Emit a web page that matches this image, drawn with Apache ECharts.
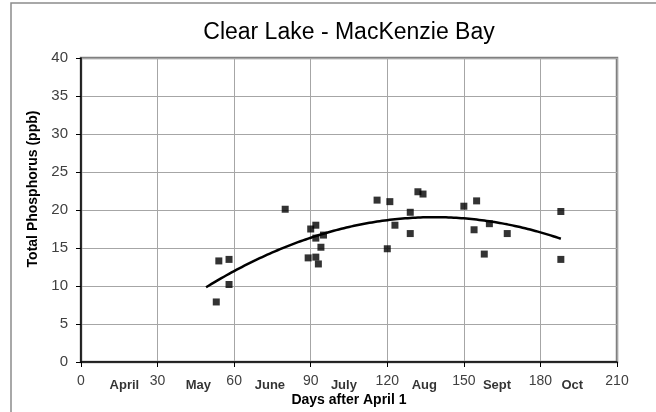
<!DOCTYPE html>
<html>
<head>
<meta charset="utf-8">
<script src="https://cdn.jsdelivr.net/npm/echarts@6/dist/echarts.min.js"></script>
<style>
  html, body { margin: 0; padding: 0; background: #fff; }
  #chart { width: 656px; height: 412px; }
</style>
</head>
<body>
<div id="chart"></div>
<script>
// Sampling day (days after April 1) and total phosphorus (ppb)
const sampleDays = [53, 54, 58, 58, 80, 89, 90, 92, 92, 92, 93, 94, 95,
                    116, 120, 121, 123, 129, 129, 132, 134,
                    150, 154, 155, 158, 160, 167, 188, 188];
const phosphorus = [7.9, 13.3, 13.5, 10.2, 20.1, 13.7, 17.5, 16.3, 13.8, 18.0, 12.9, 15.1, 16.7,
                    21.3, 14.9, 21.1, 18.0, 16.9, 19.7, 22.4, 22.1,
                    20.5, 17.4, 21.2, 14.2, 18.2, 16.9, 19.8, 13.5];

// Month names shown along the day axis, and the day each name sits over
const monthNames = ['April', 'May', 'June', 'July', 'Aug', 'Sept', 'Oct'];
const monthDays = [17, 46, 74, 103, 134.5, 163, 192.5];

// Trend line: 2nd-order polynomial fit, extended a few days before the first sample
const trendBackcastDays = 4;

function quadraticFit(xs, ys) {
  // Normal equations for y = c0 + c1 x + c2 x^2
  const S = [0, 0, 0, 0, 0];
  const T = [0, 0, 0];
  for (let i = 0; i < xs.length; i++) {
    const x = xs[i], y = ys[i];
    let p = 1;
    for (let k = 0; k < 5; k++) { S[k] += p; if (k < 3) T[k] += p * y; p *= x; }
  }
  const A = [[S[0], S[1], S[2], T[0]], [S[1], S[2], S[3], T[1]], [S[2], S[3], S[4], T[2]]];
  for (let c = 0; c < 3; c++) {
    let piv = c;
    for (let r = c + 1; r < 3; r++) if (Math.abs(A[r][c]) > Math.abs(A[piv][c])) piv = r;
    [A[c], A[piv]] = [A[piv], A[c]];
    for (let r = 0; r < 3; r++) {
      if (r === c) continue;
      const f = A[r][c] / A[c][c];
      for (let k = c; k < 4; k++) A[r][k] -= f * A[c][k];
    }
  }
  return [A[0][3] / A[0][0], A[1][3] / A[1][1], A[2][3] / A[2][2]];
}

const coef = quadraticFit(sampleDays, phosphorus);
const xMin = Math.min(...sampleDays) - trendBackcastDays;
const xMax = Math.max(...sampleDays);
const trendPoints = [];
for (let x = xMin; x <= xMax + 1e-9; x += 1) {
  trendPoints.push([x, coef[0] + coef[1] * x + coef[2] * x * x]);
}

const points = sampleDays.map((d, i) => [d, phosphorus[i]]);
const monthMarks = monthDays.map((d, i) => ({ value: [d, 0], name: monthNames[i] }));

const chart = echarts.init(document.getElementById('chart'), null, { renderer: 'canvas' });
chart.setOption({
  animation: false,
  backgroundColor: '#fff',
  grid: {
    left: 81, top: 58, width: 536, height: 305,
    show: true, borderColor: '#808080', borderWidth: 2.5, backgroundColor: 'transparent'
  },
  graphic: [
    {
      type: 'rect', z: -10, silent: true,
      shape: { x: 11, y: 3, width: 1000, height: 1000 },
      style: { fill: 'none', stroke: '#8c8c8c', lineWidth: 1.5 }
    },
    {
      type: 'text', x: 349, y: 33, silent: true,
      style: {
        text: 'Clear Lake - MacKenzie Bay', align: 'center', verticalAlign: 'middle',
        font: '23px "Liberation Sans", Arial, sans-serif', fill: '#000'
      }
    },
    {
      type: 'text', x: 33, y: 189, rotation: Math.PI / 2, silent: true,
      style: {
        text: 'Total Phosphorus (ppb)', align: 'center', verticalAlign: 'middle',
        font: 'bold 14px "Liberation Sans", Arial, sans-serif', fill: '#000'
      }
    }
  ],
  xAxis: {
    type: 'value', min: 0, max: 210, interval: 30,
    name: 'Days after April 1', nameLocation: 'middle', nameGap: 31,
    nameTextStyle: { fontFamily: 'Liberation Sans', fontWeight: 'bold', fontSize: 14, color: '#000' },
    axisLine: { lineStyle: { color: '#000', width: 1.5 } },
    axisTick: { show: true, inside: false, length: 5, lineStyle: { color: '#000', width: 1 } },
    axisLabel: { margin: 12, fontFamily: 'Liberation Sans', fontSize: 14, color: '#404040' },
    splitLine: { show: true, lineStyle: { color: '#a6a6a6', width: 1 } }
  },
  yAxis: {
    type: 'value', min: 0, max: 40, interval: 5,
    axisLine: { show: true, lineStyle: { color: '#000', width: 1.5 } },
    axisTick: { show: true, inside: false, length: 5, lineStyle: { color: '#000', width: 1 } },
    axisLabel: { margin: 13, fontFamily: 'Liberation Sans', fontSize: 15, color: '#404040' },
    splitLine: { show: true, lineStyle: { color: '#a6a6a6', width: 1 } }
  },
  series: [
    {
      name: 'Trend', type: 'line', data: trendPoints, showSymbol: false, smooth: false,
      lineStyle: { color: '#000', width: 2.5 }, z: 3, silent: true
    },
    {
      name: 'Total Phosphorus', type: 'scatter', data: points, symbol: 'rect', symbolSize: 7,
      itemStyle: { color: '#000' }, z: 4
    },
    {
      name: 'Months', type: 'scatter', data: monthMarks, symbolSize: 0, clip: false, silent: true,
      label: {
        show: true, position: 'bottom', distance: 17, formatter: p => p.name,
        fontFamily: 'Liberation Sans', fontWeight: 'bold', fontSize: 13, color: '#000'
      }
    }
  ]
});
</script>
</body>
</html>
